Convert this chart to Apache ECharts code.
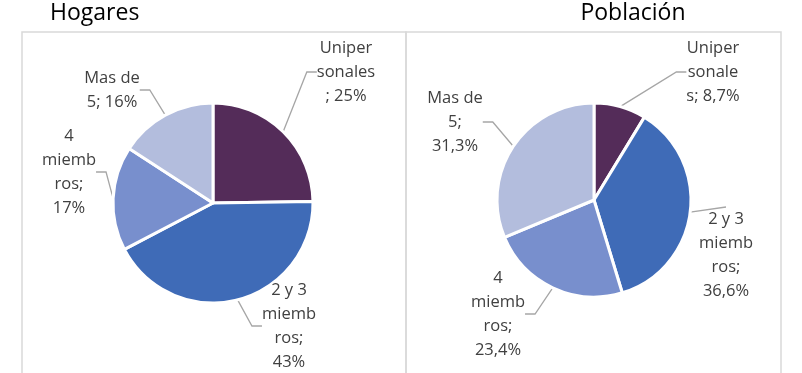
<!DOCTYPE html>
<html>
<head>
<meta charset="utf-8">
<script src="https://cdn.jsdelivr.net/npm/echarts@6/dist/echarts.min.js"></script>
<style>
html,body{margin:0;padding:0;background:#fff;}
#chart{width:802px;height:373px;}
</style>
</head>
<body>
<div id="chart"></div>
<script>
// ---- data ----
const categories = ["Unipersonales", "2 y 3 miembros", "4 miembros", "Mas de 5"];
const hogaresValues = [25, 43, 17, 16];
const poblacionValues = [8.7, 36.6, 23.4, 31.3];
const titles = ["Hogares", "Población"];
// wrapped label texts, {v} is replaced by the formatted value
const hogaresLabelText = ["Uniper\nsonales\n; {v}", "2 y 3\nmiemb\nros;\n{v}", "4\nmiemb\nros;\n{v}", "Mas de\n5; {v}"];
const poblacionLabelText = ["Uniper\nsonale\ns; {v}", "2 y 3\nmiemb\nros;\n{v}", "4\nmiemb\nros;\n{v}", "Mas de\n5;\n{v}"];
const colors = ["#542C59", "#3F6BB7", "#788FCD", "#B3BDDD"];

// ---- layout ----
const hogaresLabelPos = [[346, 72], [289, 326], [69, 172], [112, 90]];
const poblacionLabelPos = [[713, 72], [726, 255], [498, 314], [455, 122]];

const fmtH = v => v + "%";
const fmtP = v => v.toFixed(1).replace(".", ",") + "%";

function makeSeries(values, texts, fmt, center, radius, pos) {
  return {
    type: "pie",
    center: center,
    radius: radius,
    startAngle: 90,
    clockwise: true,
    animation: false,
    data: categories.map((c, i) => ({ name: c, value: values[i], itemStyle: { color: colors[i] } })),
    itemStyle: { borderColor: "#fff", borderWidth: 3 },
    label: {
      show: true,
      position: "outside",
      color: "#404040",
      fontFamily: "Open Sans",
      fontSize: 16.5,
      lineHeight: 24,
      align: "center",
      formatter: p => texts[p.dataIndex].replace("{v}", fmt(values[p.dataIndex]))
    },
    labelLine: { show: true, length: 8, length2: 10, lineStyle: { color: "#A6A6A6", width: 1.3 } },
    labelLayout: p => ({ x: pos[p.dataIndex][0], y: pos[p.dataIndex][1], align: "center", verticalAlign: "middle" }),
    emphasis: { disabled: true }
  };
}

const chart = echarts.init(document.getElementById("chart"), null, { renderer: "canvas" });
chart.setOption({
  backgroundColor: "#fff",
  title: [
    { text: titles[0], left: 50, top: 0, padding: [2, 0, 0, 0], textStyle: { fontFamily: "Open Sans", fontSize: 23, fontWeight: "normal", color: "#000" } },
    { text: titles[1], left: 633, top: 0, padding: [2, 0, 0, 0], textAlign: "center", textStyle: { fontFamily: "Open Sans", fontSize: 23, fontWeight: "normal", color: "#000" } }
  ],
  graphic: [
    { type: "rect", shape: { x: 22, y: 32, width: 384, height: 400 }, style: { fill: "none", stroke: "#D9D9D9", lineWidth: 1.5 }, silent: true, z: -1 },
    { type: "rect", shape: { x: 406, y: 32, width: 375, height: 400 }, style: { fill: "none", stroke: "#D9D9D9", lineWidth: 1.5 }, silent: true, z: -1 }
  ],
  series: [
    makeSeries(hogaresValues, hogaresLabelText, fmtH, [213, 203], 100, hogaresLabelPos),
    makeSeries(poblacionValues, poblacionLabelText, fmtP, [594, 200], 97, poblacionLabelPos)
  ]
});
</script>
</body>
</html>
